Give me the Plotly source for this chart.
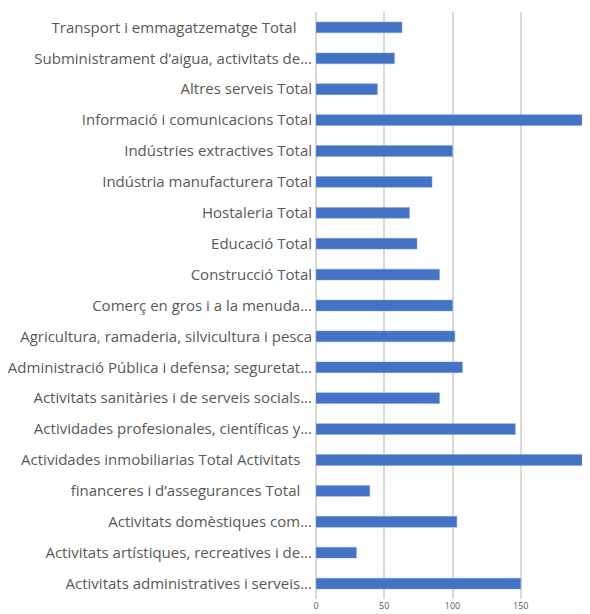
import plotly.graph_objects as go

NB = "\u00a0"
categories = [
    "Transport i emmagatzematge Total" + NB * 4,
    "Subministrament d’aigua, activitats de...",
    "Altres serveis Total",
    "Informació i comunicacions Total",
    "Indústries extractives Total",
    "Indústria manufacturera Total",
    "Hostaleria Total",
    "Educació Total",
    "Construcció Total",
    "Comerç en gros i a la menuda...",
    "Agricultura, ramaderia, silvicultura i pesca",
    "Administració Pública i defensa; seguretat...",
    "Activitats sanitàries i de serveis socials...",
    "Actividades profesionales, científicas y...",
    "Actividades inmobiliarias Total Activitats" + NB * 3,
    "financeres i d’assegurances Total" + NB * 3,
    "Activitats domèstiques com...",
    "Activitats artístiques, recreatives i de...",
    "Activitats administratives i serveis...",
]
values = [63, 57.5, 45, 200, 100, 85, 68.5, 74, 90.5, 100, 101.7, 107.3, 90.5, 146, 200, 39.4, 103.2, 29.6, 150]
x_ticks = [0, 50, 100, 150, 200]

# page body has an 8px default margin; margins below compensate for it
fig = go.Figure(go.Bar(
    x=values, y=categories, orientation="h",
    marker=dict(color="#4472C4", line=dict(color="#7f9fd8", width=0.5)),
))
fig.update_layout(
    width=590, height=614,
    margin=dict(l=308, r=9.3, t=4, b=22.5),
    paper_bgcolor="white", plot_bgcolor="white",
    bargap=0.65,
    showlegend=False,
    font=dict(family="Open Sans, sans-serif", color="#595959"),
)
fig.update_xaxes(
    range=[0, 200], tickvals=x_ticks, showgrid=True, gridcolor="#d9d9d9", gridwidth=1.5,
    zeroline=True, zerolinecolor="#d9d9d9", zerolinewidth=1.5,
    tickfont=dict(size=9, color="#595959"), ticks="", ticklabelstandoff=0,
    showline=False, fixedrange=True, automargin=False,
)
fig.update_yaxes(
    autorange="reversed", tickfont=dict(size=15, color="#595959"),
    ticks="", ticklabelstandoff=3, showline=False, automargin=False,
)
fig.write_html("out.html")
